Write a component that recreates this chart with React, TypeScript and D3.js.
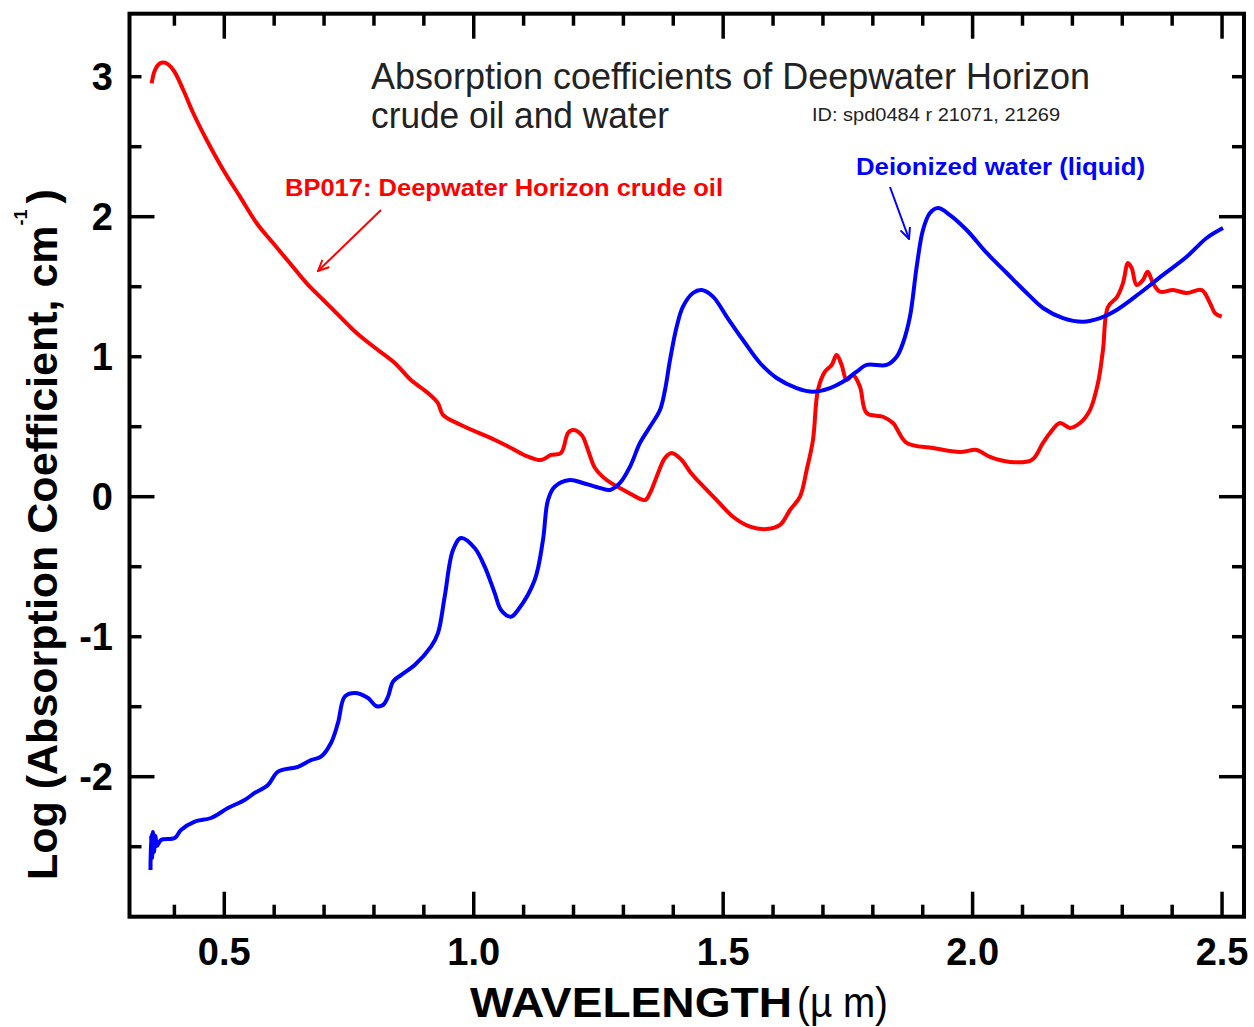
import React from "react";
import * as d3 from "d3";

// Deepwater Horizon crude oil (BP017) : wavelength (µm), log absorption coefficient
const oilWavelength = [0.3545,0.3611,0.3711,0.3812,0.3978,0.4178,0.4379,0.4647,0.498,0.5315,0.565,0.5982,0.6317,0.6652,0.6985,0.7319,0.7586,0.774,0.808,0.8417,0.8741,0.9083,0.9283,0.9384,0.9744,1.0426,1.0747,1.1088,1.1348,1.1549,1.1749,1.189,1.199,1.2164,1.229,1.2431,1.2665,1.3066,1.3433,1.3533,1.3667,1.3833,1.3968,1.4168,1.4335,1.4535,1.487,1.5197,1.5538,1.5872,1.6139,1.634,1.654,1.6674,1.68,1.69,1.704,1.7175,1.7275,1.7375,1.7476,1.7602,1.7742,1.7876,1.8203,1.8403,1.8678,1.9205,1.9747,2.0081,2.0348,2.0749,2.1184,2.141,2.1551,2.1751,2.1952,2.2152,2.2353,2.2513,2.2613,2.2713,2.2893,2.3014,2.3114,2.3188,2.3288,2.3415,2.3509,2.3615,2.3756,2.4016,2.4291,2.4592,2.4758,2.4858,2.4993];
const oilLogAbs = [2.953,3.048,3.096,3.1,3.048,2.905,2.739,2.548,2.334,2.143,1.953,1.81,1.667,1.524,1.405,1.286,1.191,1.143,1.048,0.955,0.834,0.741,0.669,0.584,0.512,0.405,0.348,0.286,0.262,0.298,0.312,0.455,0.476,0.441,0.334,0.205,0.119,0.036,-0.024,0.026,0.143,0.276,0.312,0.262,0.179,0.098,-0.024,-0.143,-0.214,-0.231,-0.202,-0.095,0.0,0.191,0.405,0.762,0.893,0.941,1.012,0.941,0.834,0.869,0.786,0.598,0.571,0.526,0.384,0.348,0.319,0.334,0.284,0.248,0.262,0.384,0.455,0.526,0.491,0.526,0.619,0.812,1.048,1.355,1.426,1.526,1.669,1.634,1.512,1.548,1.607,1.526,1.464,1.476,1.455,1.476,1.384,1.312,1.286];

// Deionized water (liquid)
const waterWavelength = [0.3521,0.3531,0.3551,0.3571,0.3591,0.3621,0.3651,0.3731,0.4006,0.4132,0.4407,0.4734,0.5074,0.5409,0.561,0.5876,0.6077,0.6477,0.6738,0.6938,0.7139,0.7279,0.7413,0.7614,0.7881,0.8041,0.8181,0.8281,0.8382,0.8542,0.8817,0.9143,0.9283,0.9418,0.9584,0.9745,1.0019,1.022,1.042,1.0547,1.0747,1.0887,1.1222,1.1388,1.1488,1.1623,1.1929,1.219,1.2531,1.2731,1.2932,1.3132,1.3333,1.3533,1.3733,1.3834,1.3934,1.4068,1.4194,1.4395,1.4569,1.4796,1.507,1.5397,1.5738,1.6072,1.6473,1.68,1.7141,1.7401,1.7676,1.7876,1.8277,1.8478,1.8604,1.8744,1.8879,1.9005,1.9145,1.9306,1.9546,1.9881,2.0282,2.0683,2.1084,2.1411,2.1812,2.2213,2.2554,2.2888,2.3356,2.3817,2.4291,2.4692,2.5019];
const waterLogAbs = [-2.666,-2.416,-2.581,-2.395,-2.538,-2.424,-2.495,-2.452,-2.438,-2.381,-2.321,-2.295,-2.224,-2.166,-2.116,-2.059,-1.964,-1.929,-1.881,-1.857,-1.759,-1.616,-1.429,-1.402,-1.438,-1.495,-1.488,-1.429,-1.321,-1.274,-1.202,-1.071,-0.974,-0.714,-0.381,-0.295,-0.366,-0.5,-0.688,-0.809,-0.857,-0.809,-0.595,-0.309,-0.024,0.071,0.119,0.098,0.062,0.048,0.098,0.214,0.384,0.5,0.619,0.762,0.976,1.214,1.357,1.455,1.476,1.429,1.286,1.119,0.955,0.848,0.776,0.75,0.776,0.821,0.893,0.941,0.941,1.0,1.098,1.286,1.643,1.905,2.026,2.062,2.012,1.905,1.741,1.598,1.455,1.348,1.276,1.25,1.276,1.334,1.455,1.584,1.714,1.848,1.919];

const xTickLabels = ["0.5", "1.0", "1.5", "2.0", "2.5"];
const yTickLabels = ["-2", "-1", "0", "1", "2", "3"];

const titleLine1 = "Absorption coefficients of Deepwater Horizon";
const titleLine2 = "crude oil and water";
const idText = "ID: spd0484 r 21071, 21269";
const oilLabel = "BP017: Deepwater Horizon crude oil";
const waterLabel = "Deionized water (liquid)";

const FONT = "'Liberation Sans', Arial, Helvetica, sans-serif";

export default function App() {
  const W = 1254, H = 1027;
  const x = d3.scaleLinear().domain([0.31, 2.544]).range([129.5, 1244]);
  const y = d3.scaleLinear().domain([-3, 3.45]).range([916.7, 13.7]);

  const line = d3
    .line<[number, number]>()
    .x((d) => x(d[0]))
    .y((d) => y(d[1]))
    .curve(d3.curveCatmullRom.alpha(0.5));

  const oil: [number, number][] = oilWavelength.map((w, i) => [w, oilLogAbs[i]]);
  const water: [number, number][] = waterWavelength.map((w, i) => [w, waterLogAbs[i]]);

  const xMinor = d3.range(4, 26).map((v) => v / 10);
  const yMinor = d3.range(-5, 7).map((v) => v / 2);

  const [x0, x1] = x.range();
  const [y0, y1] = y.range();

  const isMajorX = (v: number) => Math.abs(v * 2 - Math.round(v * 2)) < 1e-6;
  const isLongY = (v: number) => Math.abs(v / 2 - Math.round(v / 2)) < 1e-6;

  return (
    <svg
      width={W}
      height={H}
      viewBox={`0 0 ${W} ${H}`}
      style={{ position: "absolute", left: 0, top: 0, background: "#fff" }}
      fontFamily={FONT}
    >
      <defs>
        <marker id="arrRed" viewBox="0 0 12 12" refX="11" refY="6" markerWidth="12" markerHeight="12" markerUnits="userSpaceOnUse" orient="auto">
          <path d="M0,1 L11,6 L0,11" fill="none" stroke="#ff0000" strokeWidth="2" />
        </marker>
        <marker id="arrBlue" viewBox="0 0 12 12" refX="11" refY="6" markerWidth="12" markerHeight="12" markerUnits="userSpaceOnUse" orient="auto">
          <path d="M0,1 L11,6 L0,11" fill="none" stroke="#0000ff" strokeWidth="2" />
        </marker>
      </defs>

      {/* ticks */}
      <g stroke="#000" strokeWidth={3.5}>
        {xMinor.map((v) => {
          const L = isMajorX(v) ? 25 : 12;
          return (
            <g key={"xt" + v}>
              <line x1={x(v)} x2={x(v)} y1={y0} y2={y0 - L} />
              <line x1={x(v)} x2={x(v)} y1={y1} y2={y1 + L} />
            </g>
          );
        })}
        {yMinor.map((v) => {
          const L = isLongY(v) ? 25 : 12;
          return (
            <g key={"yt" + v}>
              <line x1={x0} x2={x0 + L} y1={y(v)} y2={y(v)} />
              <line x1={x1} x2={x1 - L} y1={y(v)} y2={y(v)} />
            </g>
          );
        })}
      </g>

      {/* frame */}
      <rect x={x0} y={y1} width={x1 - x0} height={y0 - y1} fill="none" stroke="#000" strokeWidth={4} />

      {/* tick labels */}
      <g fontSize={38} fontWeight="bold" fill="#000">
        {xTickLabels.map((t) => (
          <text key={"xl" + t} x={x(+t)} y={965} textAnchor="middle">{t}</text>
        ))}
        {yTickLabels.map((t) => (
          <text key={"yl" + t} x={113} y={y(+t) + 13.5} textAnchor="end">{t}</text>
        ))}
      </g>

      {/* curves */}
      <path d={line(oil) || ""} fill="none" stroke="#ff0000" strokeWidth={4} strokeLinejoin="round" />
      <path d={line(water) || ""} fill="none" stroke="#0000ff" strokeWidth={4} strokeLinejoin="round" />

      {/* titles */}
      <text x={371} y={89} fontSize={36} fill="#222" textLength={719} lengthAdjust="spacingAndGlyphs">{titleLine1}</text>
      <text x={371} y={128} fontSize={36} fill="#222" textLength={298} lengthAdjust="spacingAndGlyphs">{titleLine2}</text>
      <text x={812} y={121} fontSize={18} fill="#222" textLength={248} lengthAdjust="spacingAndGlyphs">{idText}</text>

      {/* annotations */}
      <text x={285} y={196} fontSize={24} fontWeight="bold" fill="#ff0000" textLength={438} lengthAdjust="spacingAndGlyphs">{oilLabel}</text>
      <line x1={381} y1={210} x2={318} y2={271} stroke="#ff0000" strokeWidth={2} markerEnd="url(#arrRed)" />
      <text x={856} y={175} fontSize={24} fontWeight="bold" fill="#0000ff" textLength={289} lengthAdjust="spacingAndGlyphs">{waterLabel}</text>
      <line x1={890} y1={187} x2={909} y2={239} stroke="#0000ff" strokeWidth={2} markerEnd="url(#arrBlue)" />

      {/* axis titles */}
      <text x={470} y={1017} fontSize={43} fontWeight="bold" fill="#000" textLength={322} lengthAdjust="spacingAndGlyphs">WAVELENGTH</text>
      <text x={797} y={1017} fontSize={43} fill="#000" textLength={91} lengthAdjust="spacingAndGlyphs">(µ m)</text>
      <text transform="translate(57,880) rotate(-90)" fontSize={43} fontWeight="bold" fill="#000">
        Log (Absorption Coefficient, cm
        <tspan fontSize={18} dy={-30}>-1</tspan>
        <tspan dy={30} dx={6}>)</tspan>
      </text>
    </svg>
  );
}
